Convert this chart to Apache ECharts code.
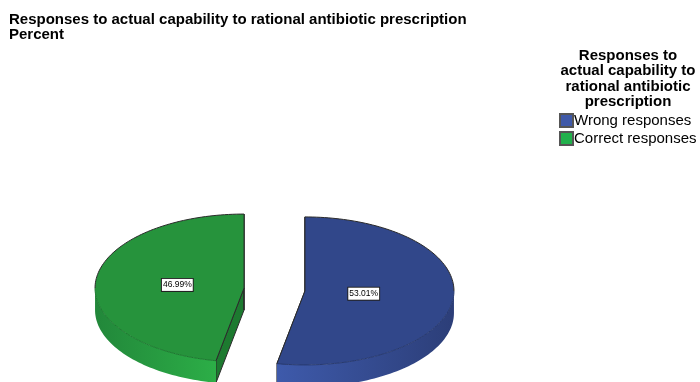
<!DOCTYPE html>
<html>
<head>
<meta charset="utf-8">
<style>html,body{margin:0;padding:0;background:#fff}#chart{width:700px;height:382px}</style>
<script src="https://cdn.jsdelivr.net/npm/echarts@6/dist/echarts.min.js"></script>
</head>
<body>
<div id="chart"></div>
<script>
// Share of responses per answer class, in percent
const categories = ['Wrong responses', 'Correct responses'];
const percents = [53.01, 46.99];
const legendHeading = 'Responses to\nactual capability to\nrational antibiotic\nprescription';
const chartHeading = 'Responses to actual capability to rational antibiotic prescription\nPercent';

// Look of each slice: top face, rim gradient (left to right), cut wall, front seam, legend swatch
const topFaces = ['#31478a', '#26933c'];
const rimLeft = ['#3e5aab', '#22873a'];
const rimRight = ['#2c3e78', '#2cae47'];
const cutWalls = ['#263a72', '#1d7a30'];
const seams = ['#27396f', '#1d7a30'];
const swatches = ['#3f59a8', '#22b14c'];
const labelReach = [59, 67];

// Tilted pie geometry
const pie = { cx: 274.5, cy: 289.5, rx: 149, ry: 74, depth: 22, explode: 30.6 };
const edge = '#2b2b2b';
const RAD = Math.PI / 180;

// Clockwise angle span of every slice, starting at twelve o'clock
const total = percents.reduce((a, b) => a + b, 0);
let running = 0;
const spans = percents.map(v => {
  const start = running;
  running += v / total * 360;
  return [start, running];
});

function onRim(c, deg, drop) {
  return [c[0] + pie.rx * Math.sin(deg * RAD), c[1] - pie.ry * Math.cos(deg * RAD) + (drop || 0)];
}

function arcPoints(c, from, to, drop) {
  const pts = [];
  const n = Math.max(2, Math.ceil(Math.abs(to - from) / 1.5));
  for (let i = 0; i <= n; i++) pts.push(onRim(c, from + (to - from) * i / n, drop));
  return pts;
}

function stroke(points, color) {
  return {
    type: 'polyline',
    shape: { points },
    style: { fill: null, stroke: color, lineWidth: 1, lineJoin: 'round' }
  };
}

function drawSlice(idx) {
  const [a0, a1] = spans[idx];
  const mid = (a0 + a1) / 2;
  const c = [
    pie.cx + pie.explode * Math.sin(mid * RAD),
    pie.cy - pie.explode * Math.cos(mid * RAD) * pie.ry / pie.rx
  ];
  const children = [];

  // Cut walls seen through the gap
  [a0, a1].forEach(a => {
    const rim = onRim(c, a);
    children.push({
      type: 'polygon',
      shape: { points: [c, rim, [rim[0], rim[1] + pie.depth], [c[0], c[1] + pie.depth]] },
      style: { fill: cutWalls[idx], stroke: edge, lineWidth: 1, lineJoin: 'round' }
    });
  });

  // Outer rim, only the part that faces the viewer
  const v0 = Math.max(a0, 90), v1 = Math.min(a1, 270);
  if (v1 > v0) {
    children.push({
      type: 'polygon',
      shape: { points: arcPoints(c, v0, v1, 0).concat(arcPoints(c, v1, v0, pie.depth)) },
      style: {
        fill: new echarts.graphic.LinearGradient(0, 0, 1, 0, [
          { offset: 0, color: rimLeft[idx] },
          { offset: 1, color: rimRight[idx] }
        ])
      }
    });
  }

  // Top face with a dark back edge and a softer seam along the front
  children.push({
    type: 'polygon',
    shape: { points: [c].concat(arcPoints(c, a0, a1, 0)) },
    style: { fill: topFaces[idx] }
  });
  if (v1 > v0) children.push(stroke(arcPoints(c, v0, v1, 0), seams[idx]));
  if (a0 < 90) children.push(stroke(arcPoints(c, a0, Math.min(a1, 90), 0), edge));
  if (a1 > 270) children.push(stroke(arcPoints(c, Math.max(a0, 270), a1, 0), edge));
  children.push(stroke([onRim(c, a0), c, onRim(c, a1)], edge));

  // Value tag
  children.push({
    type: 'text',
    style: {
      x: c[0] + labelReach[idx] * Math.sin(mid * RAD),
      y: c[1] - labelReach[idx] * Math.cos(mid * RAD) * pie.ry / pie.rx,
      text: percents[idx].toFixed(2) + '%',
      font: '8.5px "Liberation Sans", Arial, sans-serif',
      fill: '#000',
      align: 'center',
      verticalAlign: 'middle',
      backgroundColor: '#fff',
      borderColor: '#222',
      borderWidth: 1,
      padding: [2, 1, 1, 1]
    }
  });
  return { type: 'group', children };
}

const chart = echarts.init(document.getElementById('chart'), null, { renderer: 'canvas' });
chart.setOption({
  animation: false,
  backgroundColor: '#fff',
  title: [
    {
      text: chartHeading, left: 9, top: 12, padding: 0,
      textStyle: { fontFamily: '"Liberation Sans", Arial, sans-serif', fontSize: 15, fontWeight: 'bold', color: '#000', lineHeight: 15 }
    },
    {
      text: legendHeading, left: 628, top: 48, padding: 0, textAlign: 'center',
      textStyle: { fontFamily: '"Liberation Sans", Arial, sans-serif', fontSize: 15, fontWeight: 'bold', color: '#000', lineHeight: 15.5, align: 'center' }
    }
  ],
  legend: {
    orient: 'vertical', left: 559, top: 113, padding: 0,
    itemWidth: 13, itemHeight: 13, itemGap: 3, icon: 'rect',
    data: categories,
    textStyle: { fontFamily: '"Liberation Sans", Arial, sans-serif', fontSize: 15, color: '#000', lineHeight: 15, padding: [0, 0, 0, -4] },
    selectedMode: false
  },
  series: categories.map((name, i) => ({
    type: 'custom',
    name,
    coordinateSystem: 'none',
    silent: true,
    data: [percents[i]],
    itemStyle: { color: swatches[i], borderColor: '#555', borderWidth: 1 },
    renderItem: () => drawSlice(i)
  }))
});
</script>
</body>
</html>
